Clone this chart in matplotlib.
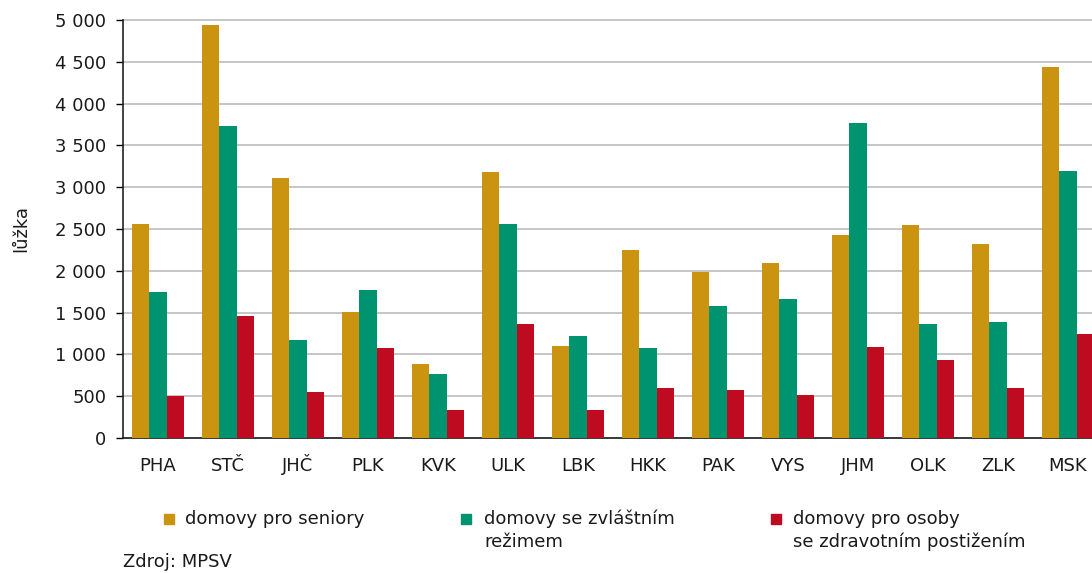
#!/usr/bin/env python

import numpy as np
import matplotlib
matplotlib.use("Agg")
import matplotlib.pyplot as plt
from matplotlib.ticker import FuncFormatter, MultipleLocator
from matplotlib.patches import Rectangle

plt.rcParams['font.family'] = ['DejaVu Sans']

# kraje
regions = ["PHA", "STČ", "JHČ", "PLK", "KVK", "ULK", "LBK",
           "HKK", "PAK", "VYS", "JHM", "OLK", "ZLK", "MSK"]

# počet lůžek podle typu zařízení
seniors = [2560, 4935, 3108, 1502, 884, 3179, 1100, 2247, 1984, 2092, 2426, 2546, 2320, 4433]
special = [1746, 3731, 1171, 1769, 765, 2558, 1219, 1076, 1578, 1661, 3765, 1365, 1386, 3190]
disabled = [502, 1459, 550, 1076, 335, 1363, 335, 598, 574, 514, 1088, 935, 598, 1243]

series_names = ["domovy pro seniory",
                "domovy se zvláštním\nrežimem",
                "domovy pro osoby\nse zdravotním postižením"]
colors = ["#CB9410", "#00936F", "#BE0B1F"]

fig = plt.figure(figsize=(10.92, 5.73), dpi=100)
# the plot area runs past the right edge, as in the original
ax = fig.add_axes([123 / 1092, 135 / 573, 980 / 1092, 418 / 573])

x = np.arange(len(regions))
w = 0.245
for i, (vals, c) in enumerate(zip([seniors, special, disabled], colors)):
    ax.bar(x + (i - 1) * w, vals, width=w, color=c, zorder=3)

ax.set_xlim(-0.5, len(regions) - 0.5)
ax.set_ylim(0, 5000)
ax.yaxis.set_major_locator(MultipleLocator(500))
ax.yaxis.set_major_formatter(FuncFormatter(lambda v, p: f"{int(v):,}".replace(",", " ")))
ax.grid(axis="y", color="#c6c6c6", linewidth=1.4, zorder=0)
for gl in ax.get_ygridlines():
    gl.set_clip_on(False)

ax.set_xticks(x)
ax.set_xticklabels(regions, va="baseline")
ax.tick_params(axis="x", length=0, pad=24, labelsize=13, labelcolor="#1a1a1a")
ax.tick_params(axis="y", length=5, width=1, pad=7, labelsize=13, labelcolor="#1a1a1a", direction="out")

for s in ["top", "right"]:
    ax.spines[s].set_visible(False)
ax.spines["left"].set_color("#222222")
ax.spines["bottom"].set_color("#222222")
ax.spines["left"].set_linewidth(1.2)
ax.spines["bottom"].set_linewidth(1.2)

ax.set_ylabel("lůžka", fontsize=13, color="#1a1a1a", labelpad=8)
ax.yaxis.set_label_coords(-0.095, 0.5)

# legenda pod grafem
W, H = 1092, 573
mark_x = [164, 461, 771]
text_x = [185, 484, 793]
for name, c, mx, tx in zip(series_names, colors, mark_x, text_x):
    fig.patches.append(Rectangle((mx / W, 1 - 524 / H), 10 / W, 10 / H,
                                 transform=fig.transFigure, color=c))
    fig.text(tx / W, 1 - 510 / H, name, fontsize=13, color="#1a1a1a",
             va="top", ha="left", linespacing=1.3)

fig.text(123 / W, 1 - 562 / H, "Zdroj: MPSV", fontsize=13, color="#1a1a1a",
         va="center", ha="left")

plt.savefig("out.png", dpi=100)
